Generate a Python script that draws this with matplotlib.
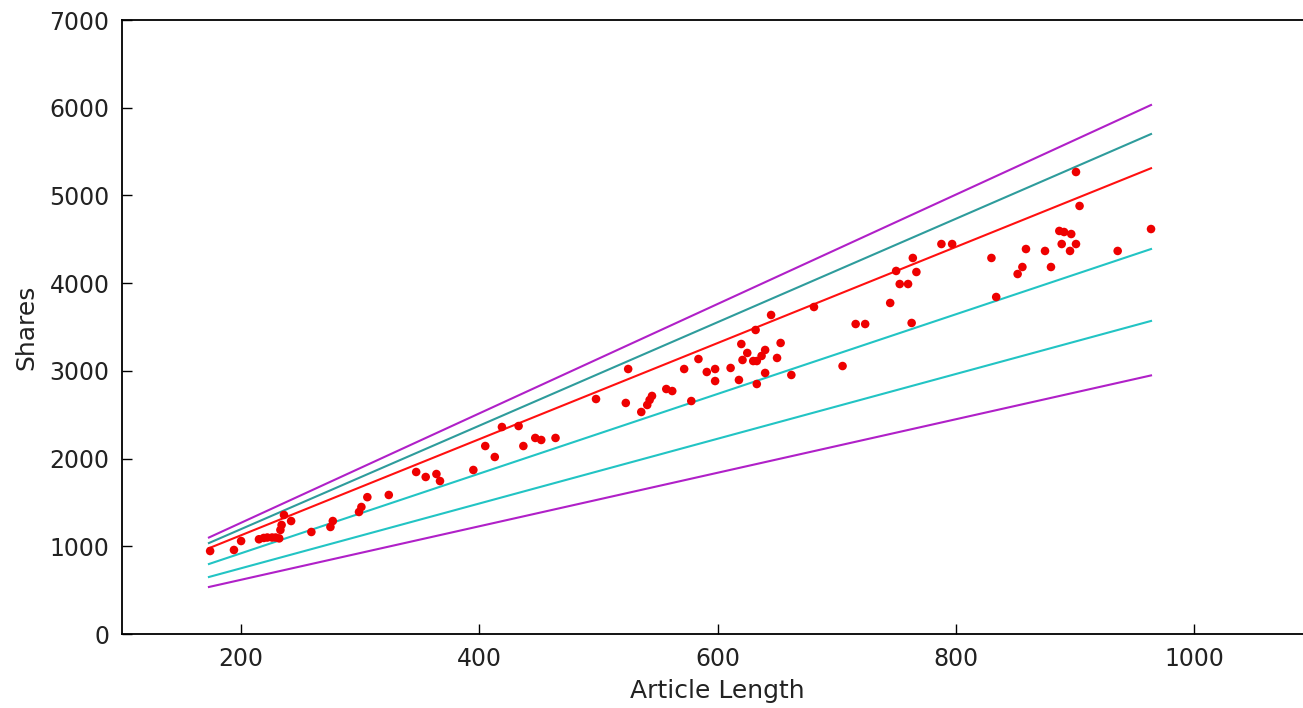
import matplotlib
matplotlib.use('Agg')
import matplotlib.pyplot as plt
import numpy as np

# scatter data
article_length = [174, 194, 200, 215, 219, 222, 226, 229, 232, 233, 234, 236, 242,
                  259, 275, 277, 299, 301, 306, 324, 347, 355, 364, 367, 395,
                  405, 413, 419, 433, 437, 447, 452, 464, 498, 523, 525, 536,
                  541, 543, 545, 557, 562, 572, 578, 584, 591, 598, 598, 611,
                  618, 620, 621, 625, 630, 633, 632, 633, 637, 640, 640, 645,
                  650, 653, 662, 681, 705, 716, 724, 745, 750, 753, 760, 763,
                  764, 767, 788, 797, 830, 834, 852, 856, 859, 875, 880, 887,
                  891, 897, 889, 896, 901, 901, 904, 936, 964]
shares = [946, 958, 1060, 1080, 1095, 1100, 1100, 1100, 1090, 1186, 1243, 1357, 1288,
          1163, 1220, 1288, 1391, 1448, 1560, 1585, 1847, 1790, 1824, 1744, 1870,
          2143, 2018, 2360, 2371, 2143, 2235, 2212, 2235, 2679, 2634, 3021, 2531,
          2611, 2668, 2714, 2793, 2770, 3021, 2656, 3135, 2987, 3021, 2884, 3033,
          2896, 3306, 3124, 3204, 3112, 3112, 3466, 2850, 3170, 3238, 2976, 3637,
          3147, 3318, 2953, 3728, 3055, 3534, 3534, 3774, 4139, 3990, 3990, 3546,
          4287, 4127, 4446, 4446, 4287, 3842, 4104, 4184, 4389, 4367, 4184, 4595,
          4583, 4560, 4446, 4367, 4446, 5267, 4880, 4367, 4617]

# fitted line and bands (values at the ends of the data range)
line_x = [173, 964]
upper_outer = [1100, 6031]
upper_inner = [1037, 5700]
fit = [978, 5310]
lower_inner = [798, 4389]
lower_mid = [650, 3569]
lower_outer = [536, 2948]

fig = plt.figure(figsize=(13.03, 7.08), dpi=100)
ax = fig.add_axes([122 / 1303, 74 / 708, (1313 - 122) / 1303, 614 / 708])

ax.plot(line_x, upper_outer, color='#b020c8', lw=1.5)
ax.plot(line_x, lower_outer, color='#b020c8', lw=1.5)
ax.plot(line_x, upper_inner, color='#2e9c9c', lw=1.5)
ax.plot(line_x, lower_inner, color='#22c4c4', lw=1.5)
ax.plot(line_x, lower_mid, color='#22c4c4', lw=1.5)
ax.plot(line_x, fit, color='#ff1010', lw=1.5)
ax.scatter(article_length, shares, s=38, color='#ee0000', edgecolors='none', zorder=3)

ax.set_xlim(100, 1100)
ax.set_ylim(0, 7000)
ax.set_xticks([200, 400, 600, 800, 1000])
ax.set_yticks(np.arange(0, 7001, 1000))
ax.tick_params(direction='in', length=7, width=1, labelsize=17, pad=9,
               top=False, right=True, labelcolor='#222222')
for s in ax.spines.values():
    s.set_linewidth(1.3)

ax.set_xlabel('Article Length', fontsize=18, labelpad=6, color='#222222')
ax.set_ylabel('Shares', fontsize=18, labelpad=8, color='#222222')

fig.savefig('out.png', dpi=100)
